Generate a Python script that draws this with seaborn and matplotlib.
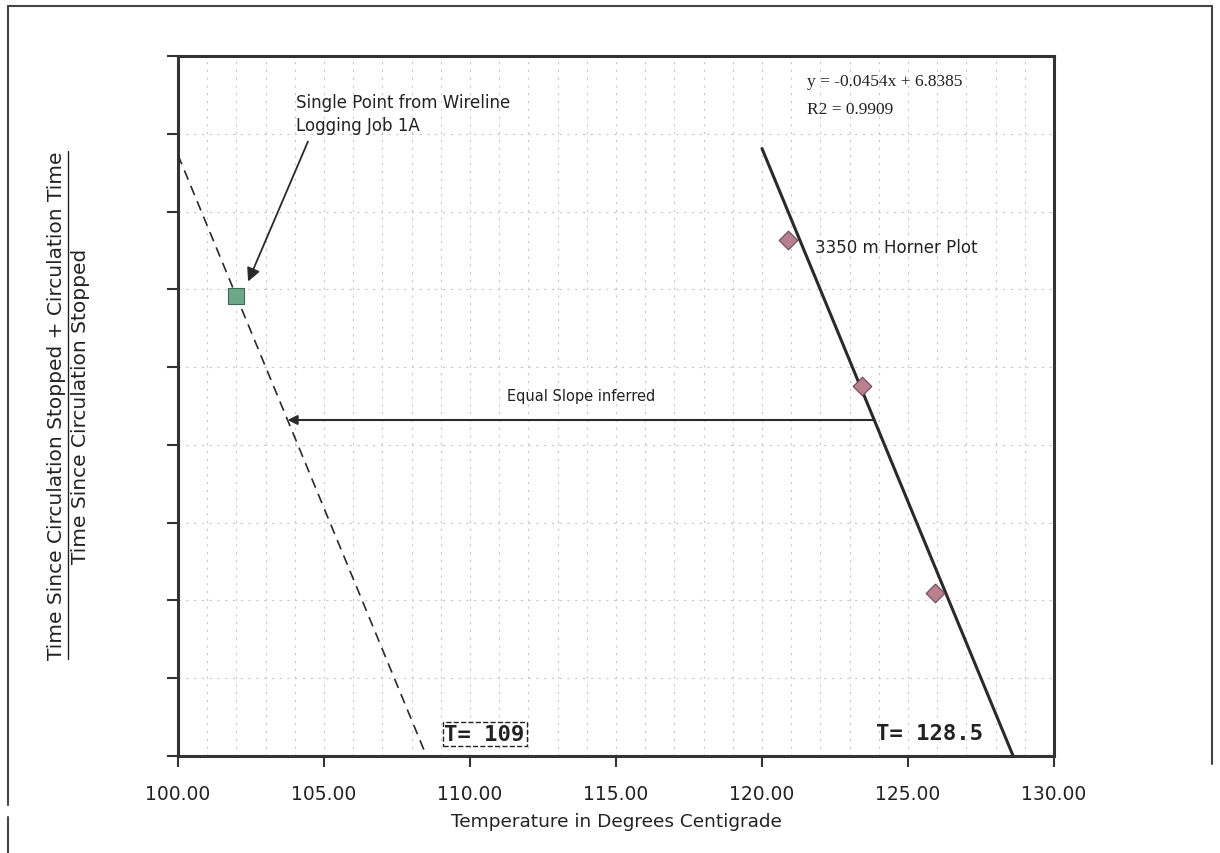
import numpy as np
import pandas as pd
import matplotlib
matplotlib.use("Agg")
import matplotlib.pyplot as plt
import seaborn as sns
from matplotlib.lines import Line2D

# Horner plot points at 3350 m
horner_temp = [120.88, 123.41, 125.92]
horner_ratio = [1.332, 1.238, 1.105]

# trend line as printed on the chart
fit_slope = -0.0454
fit_intercept = 6.8385
fit_text = "y = -0.0454x + 6.8385\nR2 = 0.9909"

# single point from the wireline logging job
wire_temp = [101.99]
wire_ratio = [1.296]

# level of the "equal slope" arrow
arrow_level = 1.216

x_ticks = [100, 105, 110, 115, 120, 125, 130]
x_labels = ["100.00", "105.00", "110.00", "115.00", "120.00", "125.00", "130.00"]
x_grid = [101, 102, 103, 104, 106, 107, 108, 109, 111, 112, 113, 114,
          116, 117, 118, 119, 121, 122, 123, 124, 126, 127, 128, 129]
y_ticks = [1.0, 1.05, 1.1, 1.15, 1.2, 1.25, 1.3, 1.35, 1.4, 1.45]

sns.set_style("white")
plt.rcParams['font.family'] = ['DejaVu Sans']

fig = plt.figure(figsize=(12.2, 8.54), dpi=100)
ax = fig.add_axes([178/1220, 1 - 757/854, (1054-178)/1220, (757-57)/854])

# grid
grid_kw = dict(color='#c8c8c8', lw=0.8, ls=(0, (2, 5)), zorder=0)
for gx in x_grid + x_ticks:
    ax.axvline(gx, **grid_kw)
for gy in y_ticks:
    ax.axhline(gy, **grid_kw)

# fitted Horner line, drawn down to the base of the axis
fit_x = np.array([120.0, (y_ticks[0] - fit_intercept) / fit_slope])
fit_df = pd.DataFrame({"T": fit_x, "R": fit_slope * fit_x + fit_intercept})
sns.lineplot(data=fit_df, x="T", y="R", ax=ax, color='#2a2a2a', lw=2.2, zorder=3)

# equal slope line through the wireline point
w_int = wire_ratio[0] - fit_slope * wire_temp[0]
dash_x = np.array([100.0, (y_ticks[0] - w_int) / fit_slope])
dash_df = pd.DataFrame({"T": dash_x, "R": fit_slope * dash_x + w_int})
sns.lineplot(data=dash_df, x="T", y="R", ax=ax, color='#2a2a2a', lw=1.2,
             dashes=False, zorder=3).lines[-1].set_dashes([6, 4])

sns.scatterplot(x=horner_temp, y=horner_ratio, ax=ax, marker='D', s=90,
                color='#b9808e', edgecolor='#6e4552', linewidth=0.8, zorder=4)
sns.scatterplot(x=wire_temp, y=wire_ratio, ax=ax, marker='s', s=130,
                color='#6ea88a', edgecolor='#3d6b52', linewidth=0.8, zorder=4)

# arrow between the two lines
x_from = (arrow_level - fit_intercept) / fit_slope
x_to = (arrow_level - w_int) / fit_slope
ax.annotate("", xy=(x_to, arrow_level), xytext=(x_from, arrow_level),
            arrowprops=dict(arrowstyle='-|>', color='#2a2a2a', lw=1.5,
                            mutation_scale=14, shrinkA=0, shrinkB=0), zorder=3)
ax.text(113.8, 1.232, "Equal Slope inferred", fontsize=10.5, ha='center', va='center',
        color='#222222')

# pointer to the wireline point
ax.annotate("", xy=(102.4, 1.305), xytext=(104.45, 1.395),
            arrowprops=dict(arrowstyle='-|>', color='#2a2a2a', lw=1.3,
                            mutation_scale=20, shrinkA=0, shrinkB=0), zorder=3)
ax.text(104.05, 1.413, "Single Point from Wireline\nLogging Job 1A", fontsize=12,
        ha='left', va='center', linespacing=1.3, color='#222222')

ax.text(121.55, 1.425, fit_text, fontsize=12.5, family='Liberation Serif',
        ha='left', va='center', linespacing=1.95, color='#222222')
ax.text(121.8, 1.327, "3350 m Horner Plot", fontsize=12, ha='left', va='center',
        color='#222222')

ax.text(110.5, 1.014, "T= 109", fontsize=16, family='DejaVu Sans Mono', weight='bold',
        ha='center', va='center', color='#222222',
        bbox=dict(boxstyle='square,pad=0.08', fc='white', ec='#222222', ls='--', lw=1.0))
ax.text(125.75, 1.015, "T= 128.5", fontsize=16, family='DejaVu Sans Mono', weight='bold',
        ha='center', va='center', color='#222222')

ax.set_xlim(x_ticks[0], x_ticks[-1])
ax.set_ylim(y_ticks[0], y_ticks[-1])
ax.set_xticks(x_ticks)
ax.set_xticklabels(x_labels, fontsize=13.5, color='#222222')
ax.set_yticks(y_ticks)
ax.set_yticklabels([])
ax.tick_params(axis='both', direction='out', length=8, width=1.5, color='#333333',
               bottom=True, left=True, pad=12)
ax.set_xlabel("Temperature in Degrees Centigrade", fontsize=13.3, labelpad=7,
              color='#222222')
ax.set_ylabel("")
for sp in ax.spines.values():
    sp.set_visible(True)
    sp.set_color('#333333')
    sp.set_linewidth(2.2)

# two-line y label written as a fraction
top_line = fig.text(57/1220, 1 - 406/854, "Time Since Circulation Stopped + Circulation Time",
                    rotation=90, ha='center', va='center', fontsize=14.5, color='#222222')
fig.text(81/1220, 1 - 406/854, "Time Since Circulation Stopped",
         rotation=90, ha='center', va='center', fontsize=14.5, color='#222222')
fig.canvas.draw()
bb = top_line.get_window_extent(fig.canvas.get_renderer()).transformed(fig.transFigure.inverted())
fig.add_artist(Line2D([bb.x1 + 1/1220, bb.x1 + 1/1220], [bb.y0, bb.y1],
                      transform=fig.transFigure, color='#222222', lw=1.0))

# page border around the chart
border_kw = dict(transform=fig.transFigure, color='#444444', lw=1.5)
fig.add_artist(Line2D([8/1220, 1212/1220], [1 - 7/854, 1 - 7/854], **border_kw))
fig.add_artist(Line2D([8/1220, 8/1220], [1 - 7/854, 1 - 806/854], **border_kw))
fig.add_artist(Line2D([8/1220, 8/1220], [1 - 818/854, 0], **border_kw))
fig.add_artist(Line2D([1212/1220, 1212/1220], [1 - 7/854, 1 - 765/854], **border_kw))

fig.savefig("out.png", dpi=100)
